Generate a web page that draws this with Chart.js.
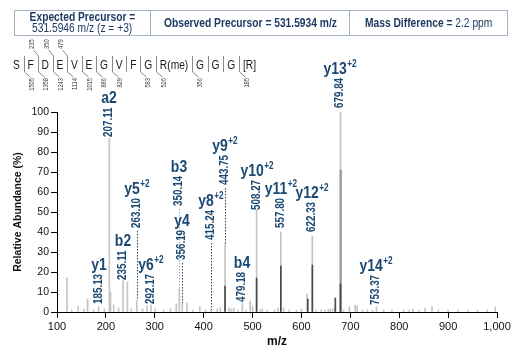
<!DOCTYPE html>
<html><head><meta charset="utf-8">
<script src="https://cdn.jsdelivr.net/npm/chart.js@4.4.1/dist/chart.umd.min.js"></script>
<style>
html,body{margin:0;padding:0;background:#fff;}
#wrap{position:relative;width:520px;height:350px;overflow:hidden;font-family:"Liberation Sans",Arial,sans-serif;}
canvas{position:absolute;left:0;top:0;}
#hdr{position:absolute;left:14px;top:10px;width:494px;height:26px;border:1px solid #a3b3c4;box-sizing:border-box;display:flex;color:#1d3b63;font-size:12.5px;}
.c{display:flex;flex-direction:column;align-items:center;justify-content:center;line-height:11px;white-space:nowrap;overflow:visible;}
.c span{display:inline-block;transform:scaleX(0.82);transform-origin:center;}
.c1{width:135px;border-right:1px solid #a3b3c4;}
.c2{width:198px;border-right:1px solid #a3b3c4;}
.c3{flex:1;}
b{font-weight:bold;}
</style></head>
<body><div id="wrap">
<canvas id="c" width="520" height="350"></canvas>
<div id="hdr">
 <div class="c c1"><span><b>Expected Precursor =</b></span><span>531.5946 m/z (z = +3)</span></div>
 <div class="c c2"><span><b>Observed Precursor = 531.5934 m/z</b></span></div>
 <div class="c c3"><span><b>Mass Difference =</b> 2.2 ppm</span></div>
</div>
</div>
<script>
// ---------- DATA ----------
const xTicks = [100,200,300,400,500,600,700,800,900,1000];
const yTicks = [0,10,20,30,40,50,60,70,80,90,100];

// overall spectrum peaks [m/z, relative abundance %]
const lightPeaks = [
 [120.5,17],[130,1],[143,3],[155,1.5],[162.6,6.5],[175,1],[185.13,2.5],[197,1.5],
 [207.11,87],[209.5,10],[216,3.5],[226,2],[235.11,16],[244,15],[252,1.5],[263.10,6],
 [275,1.5],[284,3],[292.17,3.5],[301,1.5],[318,1],[332,1.5],[344,4],[350.14,11.5],
 [356.19,4.5],[366,4.5],[378,1],[392,2.5],[404,1],[415.24,1],[428,1.5],[434,2],
 [443.75,34],[452,2],[457,1.5],[462,2],[470,1],[479.18,4.5],[487,1],[495,5.5],[500,3],
 [508.27,51],[516,1],[520,1.5],[530,1],[545,1],[552,2],[557.80,40],[563.5,2],[575,1],
 [590,1],[600,1.5],[611.4,9],[622.33,38],[630,1],[640,1],[648,1],[655,1.2],[659,1.5],
 [664,1.5],[669.3,3],[679.84,100],[686,1],[698,2.5],[710,3.5],[714,3],[725,1],[735,1],
 [745,1],[753.37,2.5],[768,1],[785,1],[809,1],[820,1],[828,1.5],[840,1],[853,2],
 [867,2.7],[880,1],[900,1],[920,1],[940,1],[960,1],[980,1],[996.5,2.5]
];
const mediumPeaks = [[680.3,71]];
const darkPeaks = [
 [443.75,13],[508.27,17],[557.80,23],[613,6.5],[622.33,23.5],[669.3,7],[679.84,14]
];

// annotated fragment ions
const ionNames   = ['y1','b2','a2','y5','y6','b3','y4','y8','y9','y10','y11','y12','y13','y14','b4'];
const ionCharges = ['','','','+2','+2','','','+2','+2','+2','+2','+2','+2','+2',''];
const ionMz      = [185.13,235.11,207.11,263.10,292.17,350.14,356.19,415.24,443.75,508.27,557.80,622.33,679.84,753.37,479.18];
const ionLabelLevel = [4,16,87.5,42,4,53,26,36,63.5,51,42,40,102,3.5,5];

// peptide sequence and fragment markers
const residues = ['S','F','D','E','V','E','G','V','F','G','R(me)','G','G','G','[R]'];
const bIonMarks = [null,235,350,479,null,null,null,null,null,null,null,null,null,null];
const yIonMarks = [1505,1358,1243,1114,1015,886,829,null,583,526,356,null,null,185];

// ---------- STYLE ----------
const FONT = '"Liberation Sans",Arial,sans-serif';
const BLUE = '#1b4872';
const SX = 0.82; // condensed look

function condText(ctx, txt, x, y, font, color, align, baseline, rot){
 ctx.save();
 ctx.font = font; ctx.fillStyle = color;
 ctx.textAlign = align; ctx.textBaseline = baseline;
 ctx.translate(x, y);
 if(rot) ctx.rotate(rot);
 ctx.scale(SX, 1);
 ctx.fillText(txt, 0, 0);
 ctx.restore();
}
function condWidth(ctx, txt, font){
 ctx.save(); ctx.font = font; const w = ctx.measureText(txt).width*SX; ctx.restore(); return w;
}

const annotPlugin = {
 id:'annot',
 afterDatasetsDraw(chart){
  const ctx = chart.ctx, xs = chart.scales.x, ys = chart.scales.y;
  const all = lightPeaks.concat(mediumPeaks, darkPeaks);
  const fMass = 'bold 12px '+FONT, fIon = 'bold 17px '+FONT, fCh = 'bold 10px '+FONT;
  for(let i=0;i<ionNames.length;i++){
   const xp = Math.round(xs.getPixelForValue(ionMz[i]));
   const py = ys.getPixelForValue(ionLabelLevel[i]);
   const mtxt = ionMz[i].toFixed(2);
   const w = condWidth(ctx, mtxt, fMass);
   condText(ctx, mtxt, xp-0.5, py, fMass, BLUE, 'left', 'middle', -Math.PI/2);
   const nw = condWidth(ctx, ionNames[i], fIon);
   const cw = ionCharges[i] ? condWidth(ctx, ionCharges[i], fCh)+0.5 : 0;
   const left = xp - (nw+cw)/2;
   const base = py - w - 4;
   condText(ctx, ionNames[i], left, base, fIon, BLUE, 'left', 'alphabetic', 0);
   if(ionCharges[i]) condText(ctx, ionCharges[i], left+nw+0.5, base-6.5, fCh, BLUE, 'left', 'alphabetic', 0);
   // leader line
   let top = 0;
   all.forEach(p=>{ if(Math.abs(p[0]-ionMz[i])<0.6 && p[1]>top) top=p[1]; });
   const tp = ys.getPixelForValue(top);
   if(tp - py > 6){
    ctx.save();
    ctx.strokeStyle = ionNames[i]==='b3' ? '#9aabbd' : BLUE;
    ctx.lineWidth=1; ctx.setLineDash([1.5,1.5]);
    ctx.beginPath(); ctx.moveTo(xp+0.5, py+3); ctx.lineTo(xp+0.5, tp); ctx.stroke();
    ctx.restore();
   }
  }
 },
 afterDraw(chart){
  const ctx = chart.ctx;
  const fRes = '12.5px '+FONT, fNum = '7px '+FONT;
  const widths = residues.map(r=>condWidth(ctx, r, fRes));
  const x0 = 13, x1 = 256;
  const sumW = widths.reduce((a,b)=>a+b,0);
  const g = (x1-x0-sumW)/((residues.length-1)*2);
  let cur = x0;
  const seps = [];
  residues.forEach((r,i)=>{
   condText(ctx, r, cur, 68.5, fRes, '#1a1a1a', 'left', 'alphabetic', 0);
   cur += widths[i];
   if(i<residues.length-1){ cur += g; seps.push(cur); cur += g; }
  });
  ctx.save();
  ctx.strokeStyle='#8a8a8a'; ctx.lineWidth=1;
  seps.forEach((sx,i)=>{
   const x = Math.round(sx)+0.5;
   ctx.beginPath(); ctx.moveTo(x,56); ctx.lineTo(x,72); ctx.stroke();
   if(bIonMarks[i]!=null){
    ctx.beginPath(); ctx.moveTo(x,56); ctx.lineTo(x-5,50); ctx.stroke();
    condText(ctx, String(bIonMarks[i]), x-6.5, 49, fNum, '#333', 'left', 'middle', -Math.PI/2);
   }
   if(yIonMarks[i]!=null){
    ctx.beginPath(); ctx.moveTo(x,72); ctx.lineTo(x+6,77); ctx.stroke();
    condText(ctx, String(yIonMarks[i]), x+7.5, 78, fNum, '#333', 'right', 'middle', -Math.PI/2);
   }
  });
  ctx.restore();
 }
};

const toXY = arr => arr.map(p=>({x:p[0], y:p[1]}));

new Chart(document.getElementById('c'), {
 type:'bar',
 data:{datasets:[
  {label:'spectrum', data:toXY(lightPeaks), backgroundColor:'#c4c4c4', barThickness:1, grouped:false, order:3},
  {label:'overlap', data:toXY(mediumPeaks), backgroundColor:'#9c9c9c', barThickness:1.6, grouped:false, order:2},
  {label:'matched', data:toXY(darkPeaks), backgroundColor:'#4a4a4a', barThickness:1, grouped:false, order:1}
 ]},
 options:{
  responsive:false, animation:false, devicePixelRatio:1,
  layout:{padding:{top:112,right:23,left:0,bottom:0}},
  plugins:{legend:{display:false}, tooltip:{enabled:false}},
  scales:{
   x:{type:'linear', min:100, max:1000, offset:false,
     afterBuildTicks(s){ s.ticks = xTicks.map(v=>({value:v})); },
     ticks:{color:'#111', font:{family:FONT,size:11}, padding:2, maxRotation:0, autoSkip:false},
     grid:{display:true, drawOnChartArea:false, drawTicks:true, tickLength:6, color:'#000', offset:false},
     border:{display:true, color:'#000', width:1},
     title:{display:true, text:'m/z', color:'#111', font:{family:FONT,size:12,weight:'bold'}, padding:{top:0,bottom:1}},
     afterFit(s){ s.height = 38; }
   },
   y:{type:'linear', min:0, max:100,
     afterBuildTicks(s){ s.ticks = yTicks.map(v=>({value:v})); },
     ticks:{color:'#111', font:{family:FONT,size:10.5}, padding:2, autoSkip:false},
     grid:{display:true, drawOnChartArea:false, drawTicks:true, tickLength:6, color:'#000'},
     border:{display:true, color:'#000', width:1},
     title:{display:true, text:'Relative Abundance (%)', color:'#111', font:{family:FONT,size:10.5,weight:'bold'}, padding:{top:12,bottom:0}},
     afterFit(s){ s.width = 57; }
   }
  }
 },
 plugins:[annotPlugin]
});
</script>
</body></html>
